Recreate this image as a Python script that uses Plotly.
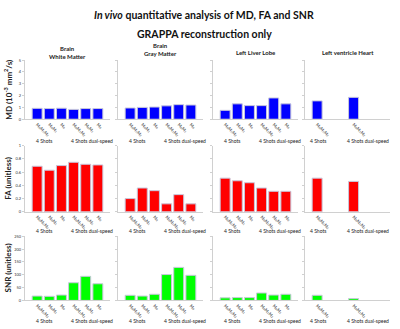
import plotly.graph_objects as go

W, H = 400, 329

regions = ["Brain<br>White Matter", "Brain<br>Gray Matter", "Left Liver Lobe", "Left ventricle Heart"]
groups = ["4 Shots", "4 Shots dual-speed"]
tick_labels = ["M₀M₁M₂", "M₀M₁", "M₀", "M₀M₁M₂", "M₀M₁", "M₀"]

md_wm = [0.92, 0.90, 0.93, 0.83, 0.90, 0.90]
md_gm = [0.95, 1.00, 1.03, 1.13, 1.23, 1.20]
md_liver = [0.75, 1.30, 1.15, 1.15, 1.80, 1.30]
md_heart = [1.55, None, None, 1.85, None, None]

fa_wm = [0.69, 0.63, 0.70, 0.75, 0.72, 0.71]
fa_gm = [0.20, 0.36, 0.32, 0.12, 0.26, 0.12]
fa_liver = [0.51, 0.47, 0.44, 0.36, 0.31, 0.31]
fa_heart = [0.51, None, None, 0.46, None, None]

snr_wm = [17, 16, 21, 69, 94, 65]
snr_gm = [20, 17, 24, 101, 129, 98]
snr_liver = [10, 11, 11, 29, 21, 24]
snr_heart = [20, None, None, 7, None, None]

rows = [
    dict(vals=[md_wm, md_gm, md_liver, md_heart], color="#0000FF", rng=[0, 5], dtick=1,
         title="MD (10<sup>-3</sup> mm<sup>2</sup>/s)", py=(118, 58), gy=140),
    dict(vals=[fa_wm, fa_gm, fa_liver, fa_heart], color="#FF0000", rng=[0, 1], dtick=0.2,
         title="FA (unitless)", py=(212, 145), gy=232),
    dict(vals=[snr_wm, snr_gm, snr_liver, snr_heart], color="#00FF00", rng=[0, 250], dtick=50,
         title="SNR (unitless)", py=(302, 237), gy=323),
]
cols_px = [(25, 110), (118, 203), (213, 298), (305, 390)]

FONT = "Lato"
fig = go.Figure()
layout = dict(width=W, height=H, margin=dict(l=0, r=0, t=0, b=0),
              paper_bgcolor="white", plot_bgcolor="white", showlegend=False,
              font=dict(family=FONT, color="#222"))
annotations = []
k = 0
for r, row in enumerate(rows):
    for c in range(4):
        k += 1
        xa = "x" if k == 1 else f"x{k}"
        ya = "y" if k == 1 else f"y{k}"
        vals = row["vals"][c]
        xs = list(range(len(vals)))
        fig.add_trace(go.Bar(x=xs, y=vals, xaxis=xa, yaxis=ya, width=0.82,
                             marker=dict(color=row["color"], line=dict(color="#c8c8dc", width=1))))
        if c == 3:
            tv = [i for i, v in enumerate(vals) if v is not None]
        else:
            tv = xs
        tt = [tick_labels[i] for i in tv]
        x0, x1 = cols_px[c]
        y0, y1 = row["py"]
        layout["xaxis" + ("" if k == 1 else str(k))] = dict(
            domain=[x0 / W, x1 / W], anchor=ya, range=[-1, 6], tickvals=tv, ticktext=tt,
            tickangle=45, tickfont=dict(size=4.5, color="#333", family="DejaVu Sans"),
            showline=True, linecolor="#d0d0d0",
            linewidth=1, showgrid=False, zeroline=False, ticks="", fixedrange=True)
        layout["yaxis" + ("" if k == 1 else str(k))] = dict(
            domain=[1 - y0 / H, 1 - y1 / H], anchor=xa, range=row["rng"], dtick=row["dtick"],
            showticklabels=(c == 0), tickfont=dict(size=4, color="#333"),
            showline=True, linecolor="#d0d0d0", linewidth=1, showgrid=False, zeroline=False,
            ticks="outside", ticklen=2, tickcolor="#d0d0d0", fixedrange=True)
        for g, gname in enumerate(groups):
            if c == 3:
                gx = [0.1, 4.2][g]
            else:
                gx = [0.6, 4.5][g]
            annotations.append(dict(text=gname, xref=xa, yref="paper", x=gx, y=1 - row["gy"] / H,
                                    showarrow=False, font=dict(size=5, color="#222"),
                                    xanchor="center", yanchor="middle"))
    annotations.append(dict(text="<b>" + row["title"] + "</b>", xref="paper", yref="paper",
                            x=8 / W, y=1 - (row["py"][0] + row["py"][1]) / 2 / H, textangle=-90,
                            showarrow=False, font=dict(size=8, color="#222"),
                            xanchor="center", yanchor="middle"))

col_title_y = [50, 47, 50, 50]
for c, name in enumerate(regions):
    x0, x1 = cols_px[c]
    annotations.append(dict(text="<b>" + name + "</b>", xref="paper", yref="paper",
                            x=(x0 + x1) / 2 / W, y=1 - col_title_y[c] / H, showarrow=False,
                            font=dict(size=6, color="#222"), xanchor="center", yanchor="middle"))

annotations.append(dict(text="<b><i>In vivo</i> quantitative analysis of MD, FA and SNR</b>",
                        xref="paper", yref="paper", x=0.51, y=1 - 12 / H, showarrow=False,
                        font=dict(size=10.5, color="#111"), xanchor="center", yanchor="middle"))
annotations.append(dict(text="<b>GRAPPA reconstruction only</b>",
                        xref="paper", yref="paper", x=0.51, y=1 - 31 / H, showarrow=False,
                        font=dict(size=10.5, color="#111"), xanchor="center", yanchor="middle"))
layout["annotations"] = annotations
fig.update_layout(**layout)
fig.write_html("out.html", config={"displayModeBar": False},
               post_script="document.body.style.margin='0';")
